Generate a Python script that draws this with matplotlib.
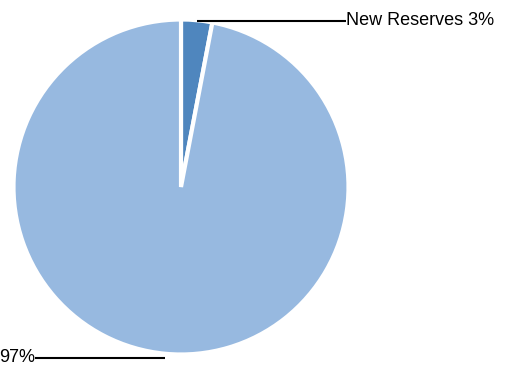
import numpy as np
import matplotlib
matplotlib.use("Agg")
import matplotlib.pyplot as plt

plt.rcParams['font.family'] = ['Liberation Sans', 'DejaVu Sans']

labels = ["New Reserves", ""]
values = [3, 97]
colors = ["#4F86BE", "#97B9E0"]

fig = plt.figure(figsize=(5.05, 3.69), dpi=100)
ax = fig.add_axes([13.5/505, 14.5/369, 335/505, 335/369])
wedges, _ = ax.pie(values, colors=colors, startangle=90, counterclock=False,
                   wedgeprops=dict(edgecolor="white", linewidth=3))
ax.set_xlim(-1, 1)
ax.set_ylim(-1, 1)
ax.set_aspect('equal')
ax.axis('off')

total = sum(values)
# label layout: (leader y, text x, ha)
label_pos = [(0.993, 0.985, 'left'), (-1.019, -0.872, 'right')]
for w, lab, v, (ly, tx, ha) in zip(wedges, labels, values, label_pos):
    mid = np.deg2rad((w.theta1 + w.theta2) / 2)
    px = 1.02 * np.cos(mid)
    ax.plot([px, tx], [ly, ly], color="black", lw=1.5, clip_on=False,
            solid_capstyle='butt')
    txt = f"{lab} {round(v / total * 100)}%".strip()
    ax.text(tx, ly, txt, ha=ha, va='center', fontsize=13, clip_on=False)

fig.savefig("out.png", dpi=100)
